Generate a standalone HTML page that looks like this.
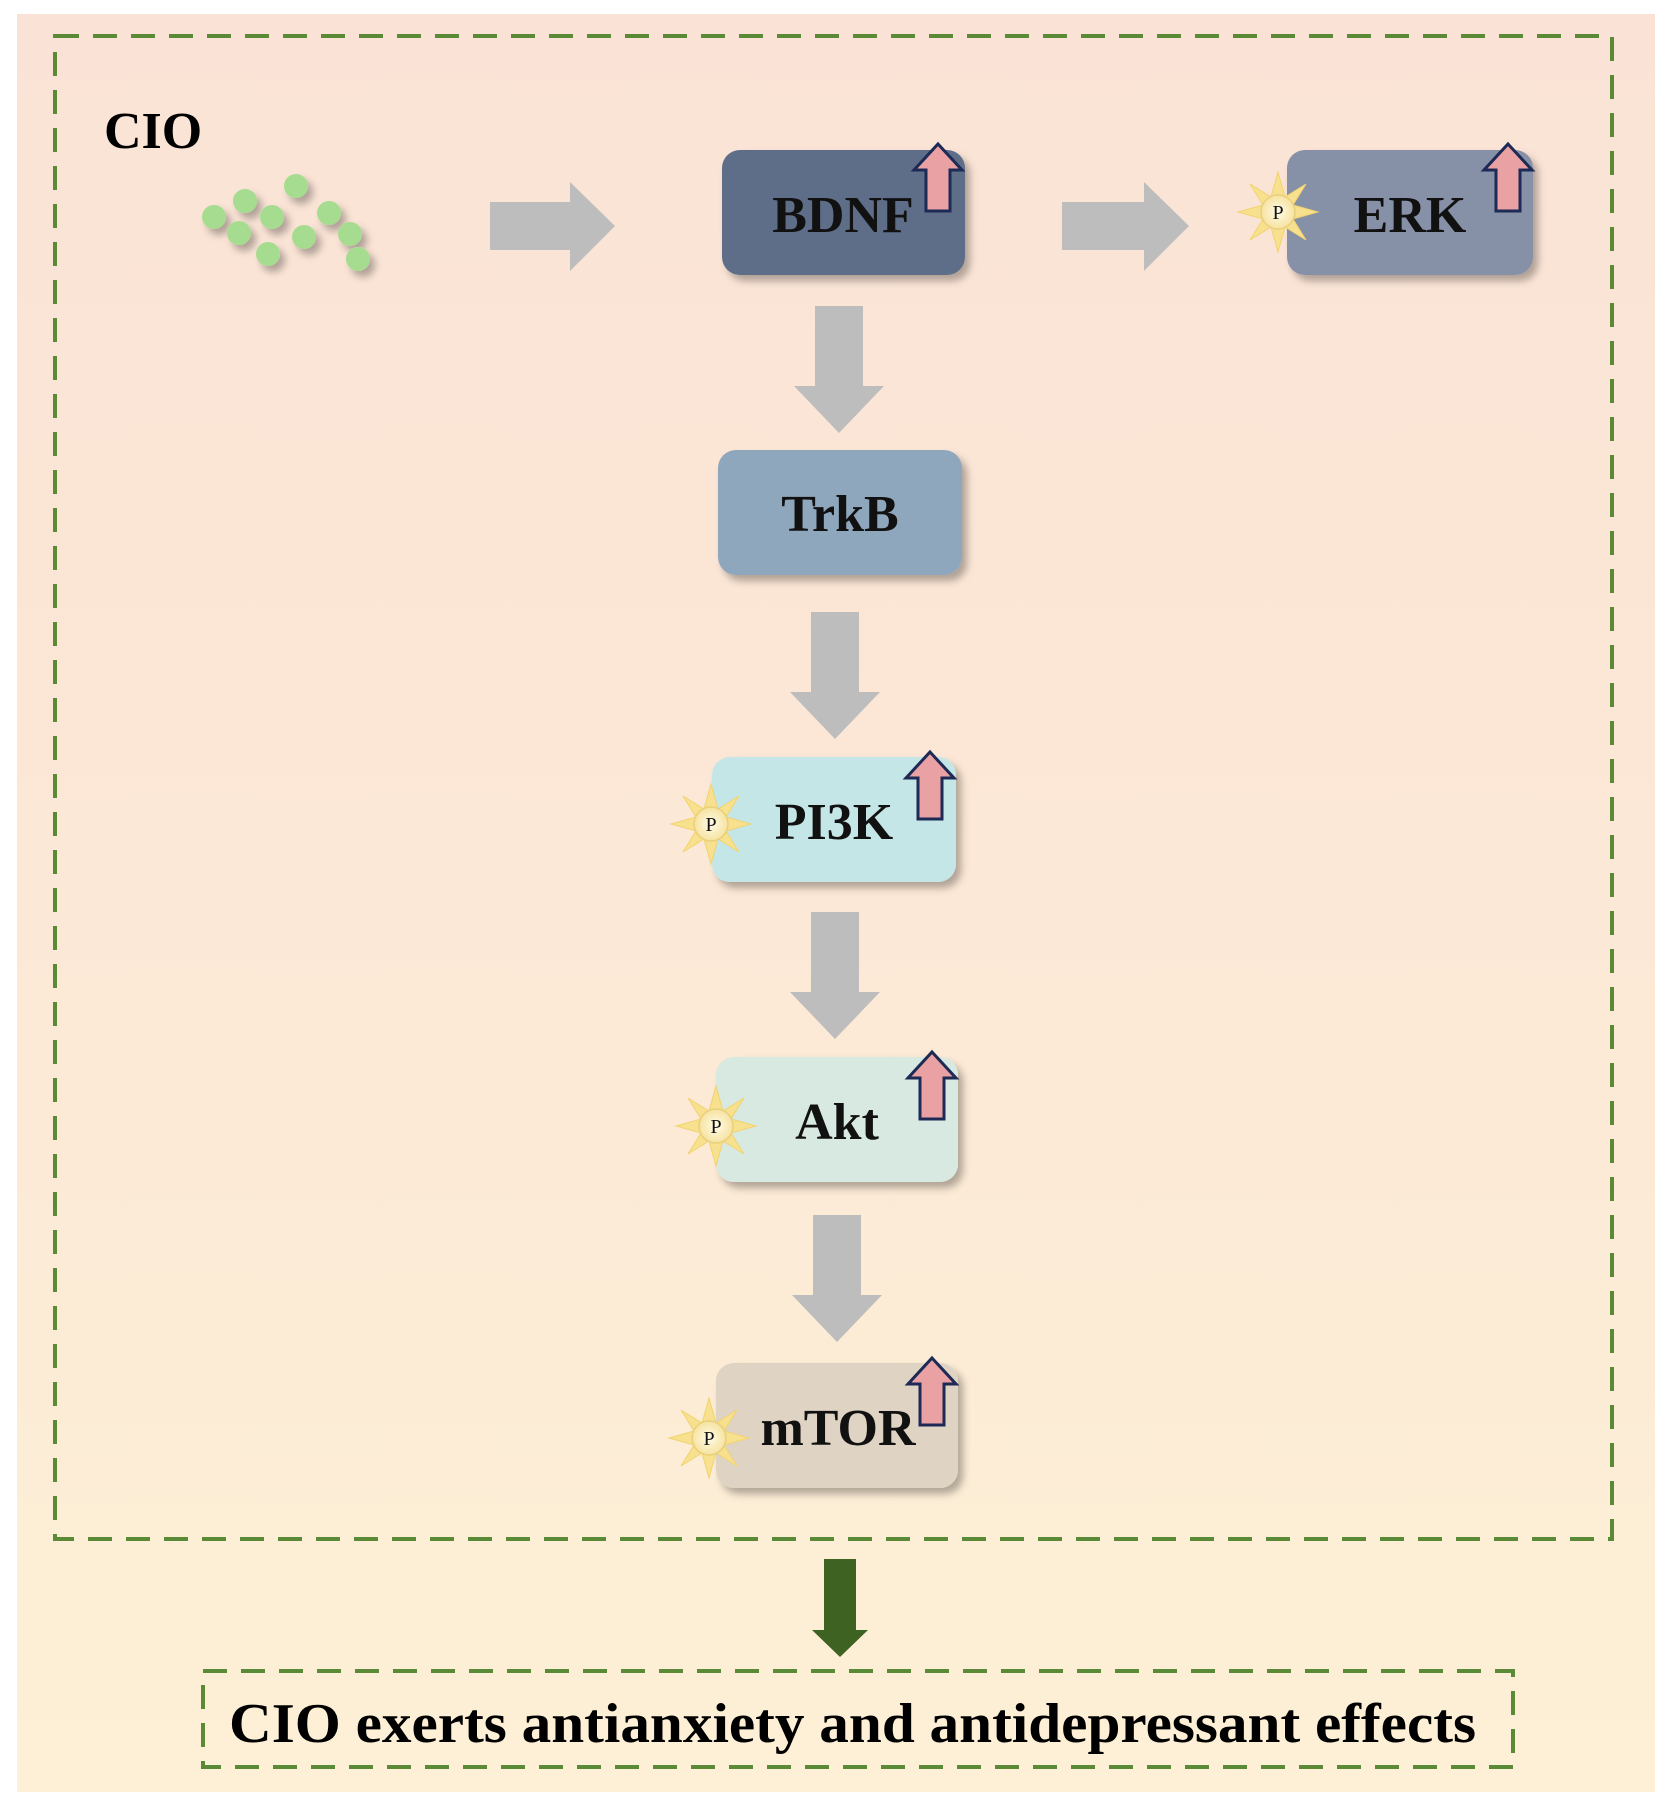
<!DOCTYPE html>
<html><head><meta charset="utf-8"><style>html,body{margin:0;padding:0;background:#fff}svg{display:block}</style></head>
<body>
<svg width="1672" height="1812" viewBox="0 0 1672 1812" xmlns="http://www.w3.org/2000/svg" font-family="'Liberation Serif',serif" font-weight="bold">
<defs>
<linearGradient id="bg" x1="0" y1="0" x2="0" y2="1">
<stop offset="0" stop-color="#fae3d6"/><stop offset="0.5" stop-color="#fce8d6"/><stop offset="1" stop-color="#fdf0d6"/>
</linearGradient>
<filter id="sh" x="-20%" y="-20%" width="150%" height="160%"><feDropShadow dx="5" dy="6" stdDeviation="4" flood-color="#000" flood-opacity="0.3"/></filter>
<radialGradient id="pg"><stop offset="0" stop-color="#fffbe8"/><stop offset="1" stop-color="#f6e3a0"/></radialGradient>
<g id="star">
<polygon points="0,-40 7,-15 28,-28 15,-7 40,0 15,7 28,28 7,15 0,40 -7,15 -28,28 -15,7 -40,0 -15,-7 -28,-28 -7,-15" fill="#f7e08e" stroke="#f2d36e" stroke-width="1"/>
<circle r="17" fill="url(#pg)" stroke="#e9cf7a" stroke-width="1.5"/>
<text x="0" y="7" font-size="20" font-weight="normal" text-anchor="middle" fill="#111">P</text>
</g>
<g id="up">
<polygon points="0,-34 24,-8 12,-8 12,33 -12,33 -12,-8 -24,-8" fill="#eaa1a4" stroke="#1c2a55" stroke-width="3" stroke-linejoin="miter"/>
</g>
<g id="dn"><polygon points="-24,0 24,0 24,80 45,80 0,127 -45,80 -24,80" fill="#bdbdbd"/></g>
</defs>
<rect x="17" y="14" width="1638" height="1778" fill="url(#bg)"/>
<rect x="55" y="36" width="1557" height="1503" fill="none" stroke="#5b8a37" stroke-width="4" stroke-dasharray="24,14"/>
<text x="104" y="148" font-size="52" fill="#000">CIO</text>
<g fill="#a6dc8f" filter="url(#sh)">
<circle cx="214" cy="217" r="12"/><circle cx="245" cy="201" r="12"/><circle cx="272" cy="217" r="12"/>
<circle cx="296" cy="186" r="12"/><circle cx="239" cy="233" r="12"/><circle cx="304" cy="237" r="12"/>
<circle cx="329" cy="213" r="12"/><circle cx="268" cy="254" r="12"/><circle cx="350" cy="234" r="12"/><circle cx="358" cy="259" r="12"/>
</g>
<polygon points="490,202 570,202 570,182 615,226 570,271 570,250 490,250" fill="#bdbdbd"/>
<polygon points="1062,202 1144,202 1144,182 1189,226 1144,271 1144,250 1062,250" fill="#bdbdbd"/>
<rect x="722" y="150" width="243" height="125" rx="18" fill="#5f6e88" filter="url(#sh)"/>
<text x="843" y="232" font-size="52" text-anchor="middle" fill="#111">BDNF</text>
<use href="#up" x="938" y="178"/>
<rect x="1287" y="150" width="246" height="125" rx="18" fill="#8690a6" filter="url(#sh)"/>
<text x="1410" y="232" font-size="52" text-anchor="middle" fill="#111">ERK</text>
<use href="#up" x="1508" y="178"/>
<use href="#star" x="1278" y="212"/>
<use href="#dn" x="839" y="306"/>
<rect x="718" y="450" width="244" height="125" rx="18" fill="#8fa7bd" filter="url(#sh)"/>
<text x="840" y="531" font-size="52" text-anchor="middle" fill="#111">TrkB</text>
<use href="#dn" x="835" y="612"/>
<rect x="712" y="757" width="244" height="125" rx="18" fill="#c5e6e6" filter="url(#sh)"/>
<text x="834" y="839" font-size="52" text-anchor="middle" fill="#111">PI3K</text>
<use href="#up" x="930" y="786"/>
<use href="#star" x="711" y="824"/>
<use href="#dn" x="835" y="912"/>
<rect x="716" y="1057" width="242" height="125" rx="18" fill="#d8e9e1" filter="url(#sh)"/>
<text x="837" y="1139" font-size="52" text-anchor="middle" fill="#111">Akt</text>
<use href="#up" x="932" y="1086"/>
<use href="#star" x="716" y="1126"/>
<use href="#dn" x="837" y="1215"/>
<rect x="716" y="1363" width="242" height="125" rx="18" fill="#dfd3c3" filter="url(#sh)"/>
<text x="838" y="1445" font-size="52" text-anchor="middle" fill="#111">mTOR</text>
<use href="#up" x="932" y="1392"/>
<use href="#star" x="709" y="1438"/>
<polygon points="824,1559 856,1559 856,1630 868,1630 840,1657 812,1630 824,1630" fill="#3d6222"/>
<rect x="203" y="1671" width="1310" height="96" fill="none" stroke="#5b8a37" stroke-width="4" stroke-dasharray="24,14"/>
<text x="229" y="1742" font-size="56" textLength="1247" lengthAdjust="spacingAndGlyphs" fill="#000">CIO exerts antianxiety and antidepressant effects</text>
</svg>
</body></html>
